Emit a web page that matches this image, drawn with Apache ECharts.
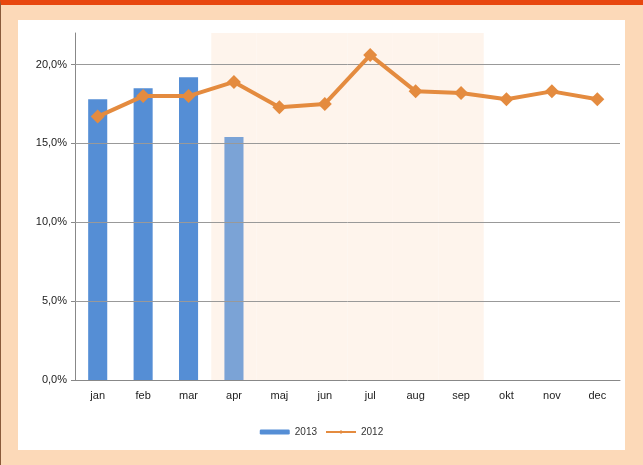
<!DOCTYPE html>
<html>
<head>
<meta charset="utf-8">
<script src="https://cdn.jsdelivr.net/npm/echarts@6/dist/echarts.min.js"></script>
<style>
html,body{margin:0;padding:0;background:#fcd9b8;}
#frame{position:absolute;left:0;top:0;border-left:1px solid #8a5a3a;border-top:5px solid #e8470f;box-sizing:border-box;width:643px;height:465px;}
#chart{position:absolute;left:18px;top:20px;width:607px;height:430px;background:#fff;}
</style>
</head>
<body>
<div id="frame"></div>
<div id="chart"></div>
<script>
var months = ['jan', 'feb', 'mar', 'apr', 'maj', 'jun', 'jul', 'aug', 'sep', 'okt', 'nov', 'dec'];
var values2013 = [17.8, 18.5, 19.2, 15.4];
var values2012 = [16.7, 18.0, 18.0, 18.9, 17.3, 17.5, 20.6, 18.3, 18.2, 17.8, 18.3, 17.8];
var shaded = [null, null, null, 22, 22, 22, 22, 22, 22, null, null, null];
var gridValues = [5, 10, 15, 20];

var chart = echarts.init(document.getElementById('chart'));
var barData = values2013.map(function (v, i) {
    return i === 3 ? { value: v, itemStyle: { color: '#7ba3d6' } } : v;
});
chart.setOption({
    animation: false,
    grid: { left: 57, right: 5, top: 13, bottom: 70 },
    legend: {
        bottom: 8,
        itemWidth: 30, itemHeight: 5,
        textStyle: { fontFamily: 'Liberation Sans', fontSize: 10, color: '#333' },
        data: ['2013', '2012']
    },
    xAxis: [{
        type: 'category', data: months,
        axisLine: { lineStyle: { color: '#888' } },
        axisTick: { show: false },
        axisLabel: { color: '#222', fontFamily: 'Liberation Sans', fontSize: 11, margin: 10 }
    }, {
        type: 'category', data: months, show: false
    }],
    yAxis: {
        type: 'value', min: 0, max: 22, interval: 5,
        axisLine: { show: true, lineStyle: { color: '#888' } },
        axisTick: { show: true, length: 4, lineStyle: { color: '#888' } },
        splitLine: { show: false },
        axisLabel: {
            showMaxLabel: false, color: '#222', fontFamily: 'Liberation Sans', fontSize: 11,
            formatter: function (v) { return v.toFixed(1).replace('.', ',') + '%'; }
        }
    },
    series: [{
        type: 'bar', xAxisIndex: 1, data: shaded, barWidth: '100%', silent: true,
        itemStyle: { color: '#fef4ec' }, z: 0
    }, {
        name: '2013', type: 'bar', data: barData, barWidth: '42%',
        itemStyle: { color: '#558ed5' }
    }, {
        name: '2012', type: 'line', data: values2012,
        symbol: 'diamond', symbolSize: 14,
        lineStyle: { color: '#e48b3f', width: 4 },
        itemStyle: { color: '#e48b3f' },
        markLine: {
            silent: true, symbol: 'none', label: { show: false },
            lineStyle: { color: '#999', type: 'solid', width: 1 },
            data: gridValues.map(function (v) { return { yAxis: v }; })
        },
        z: 5
    }]
});
</script>
</body>
</html>
